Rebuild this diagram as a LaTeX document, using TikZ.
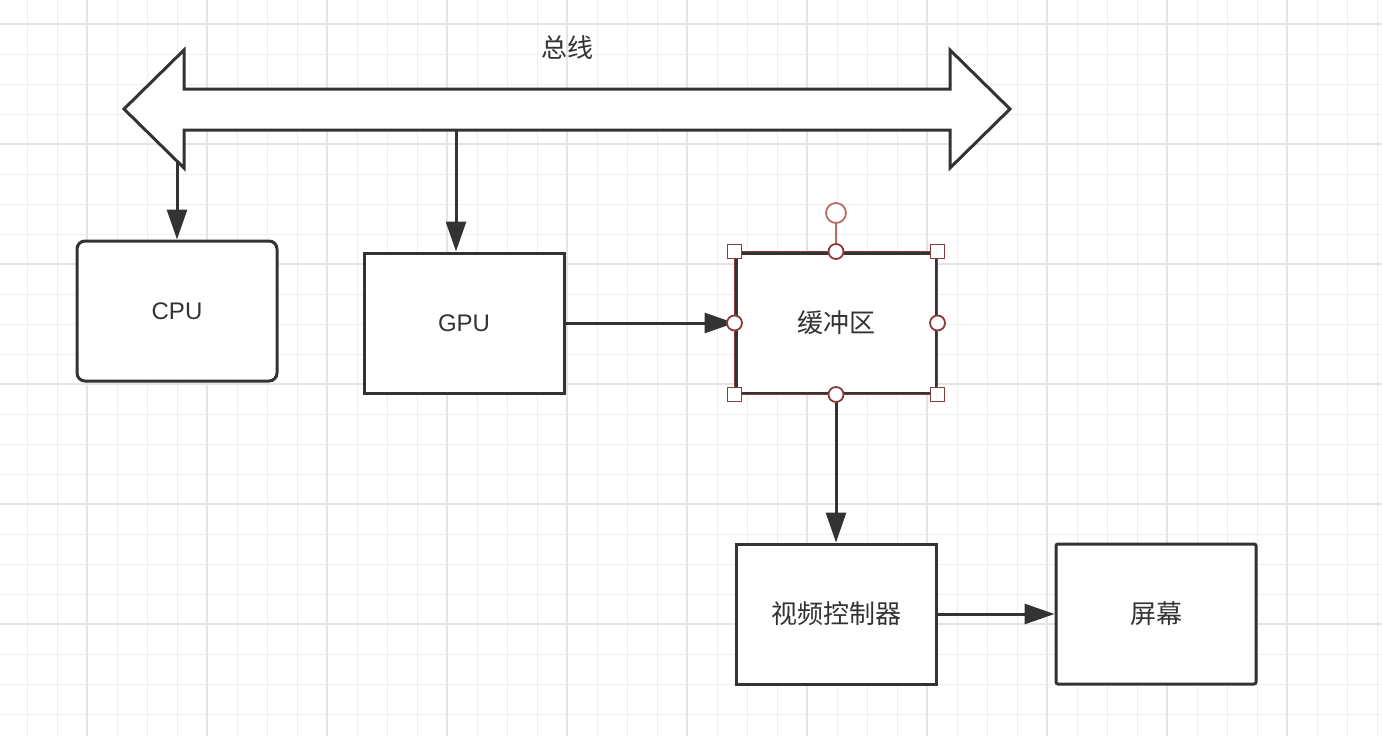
\documentclass[tikz,border=0pt]{standalone}
\usepackage{fontspec}
\setmainfont{Liberation Sans}
\newfontfamily\cjk{Noto Sans CJK SC}
\usetikzlibrary{arrows.meta}
\definecolor{ink}{HTML}{333333}
\definecolor{gridlight}{HTML}{EEEEEE}
\definecolor{griddark}{HTML}{E4E4E4}
\definecolor{handle}{HTML}{8C3B3B}
\definecolor{rothandle}{HTML}{B86B6B}

\begin{document}
\begin{tikzpicture}[x=1pt,y=-1pt,line width=3pt,
    >={Triangle[length=30pt,width=20pt]},
    box/.style={rectangle,draw=ink,fill=white,minimum width=200pt,minimum height=140pt,inner sep=0pt,text=ink,font=\fontsize{24}{28}\selectfont},
    cbox/.style={box,font=\cjk\fontsize{26}{30}\selectfont},
    link/.style={->,ink,line width=3pt},
    hsq/.style={rectangle,draw=handle,fill=white,line width=1.8pt,minimum size=14pt,inner sep=0pt},
    hcirc/.style={circle,draw=handle,fill=white,line width=1.8pt,minimum size=15pt,inner sep=0pt}]
    \useasboundingbox (0,0) rectangle (1382,736);
    %grid
    \fill[white] (0,0) rectangle (1382,736);
    \foreach \x in {27,57,...,1377} \draw[gridlight,line width=1pt] (\x,0) -- (\x,736);
    \foreach \y in {24,54,...,714} \draw[gridlight,line width=1pt] (0,\y) -- (1382,\y);
    \foreach \x in {87,207,...,1287} \draw[griddark,line width=1.2pt] (\x,0) -- (\x,736);
    \foreach \y in {24,144,...,624} \draw[griddark,line width=1.2pt] (0,\y) -- (1382,\y);

    %bus
    \draw[ink,fill=white,line join=miter] (124,109) -- (184,50) -- (184,89) -- (950,89) -- (950,50) -- (1010,109)
        -- (950,168) -- (950,130) -- (184,130) -- (184,168) -- cycle;
    \node (buslabel) at (567,48) [text=ink,font=\cjk\fontsize{26}{30}\selectfont]{总线};
    \coordinate (busC) at (177,162);
    \coordinate (busG) at (456,130);

    %boxes
    \node (cpu) at (177,311) [box,rounded corners=8pt]{CPU};
    \node (gpu) at (464,323) [box]{GPU};
    \node (buf) at (836,323) [cbox]{缓冲区};
    \node (vc) at (836,614) [cbox]{视频控制器};
    \node (scr) at (1156,614) [cbox,rounded corners=2pt]{屏幕};

    %arrows
    \draw [link] (busC) -- (cpu.north);
    \draw [link] (busG) -- (busG |- gpu.north);
    \draw [link] (gpu.east) -- (buf.west);
    \draw [link] (buf.south) -- (vc.north);
    \draw [link] (vc.east) -- (scr.west);

    %handles
    \draw[handle,line width=1.3pt] (buf.north west) rectangle (buf.south east);
    \node (rot) at (836,213) [circle,draw=rothandle,fill=white,line width=1.8pt,minimum size=20pt,inner sep=0pt]{};
    \draw[rothandle,line width=1.8pt] (rot) -- (buf.north);
    \foreach \a/\n in {north west/nw,north east/ne,south west/sw,south east/se}
        \node (h\n) at (buf.\a) [hsq]{};
    \foreach \a/\n in {north/n,south/s,east/e,west/w}
        \node (h\n) at (buf.\a) [hcirc]{};
\end{tikzpicture}
\end{document}
